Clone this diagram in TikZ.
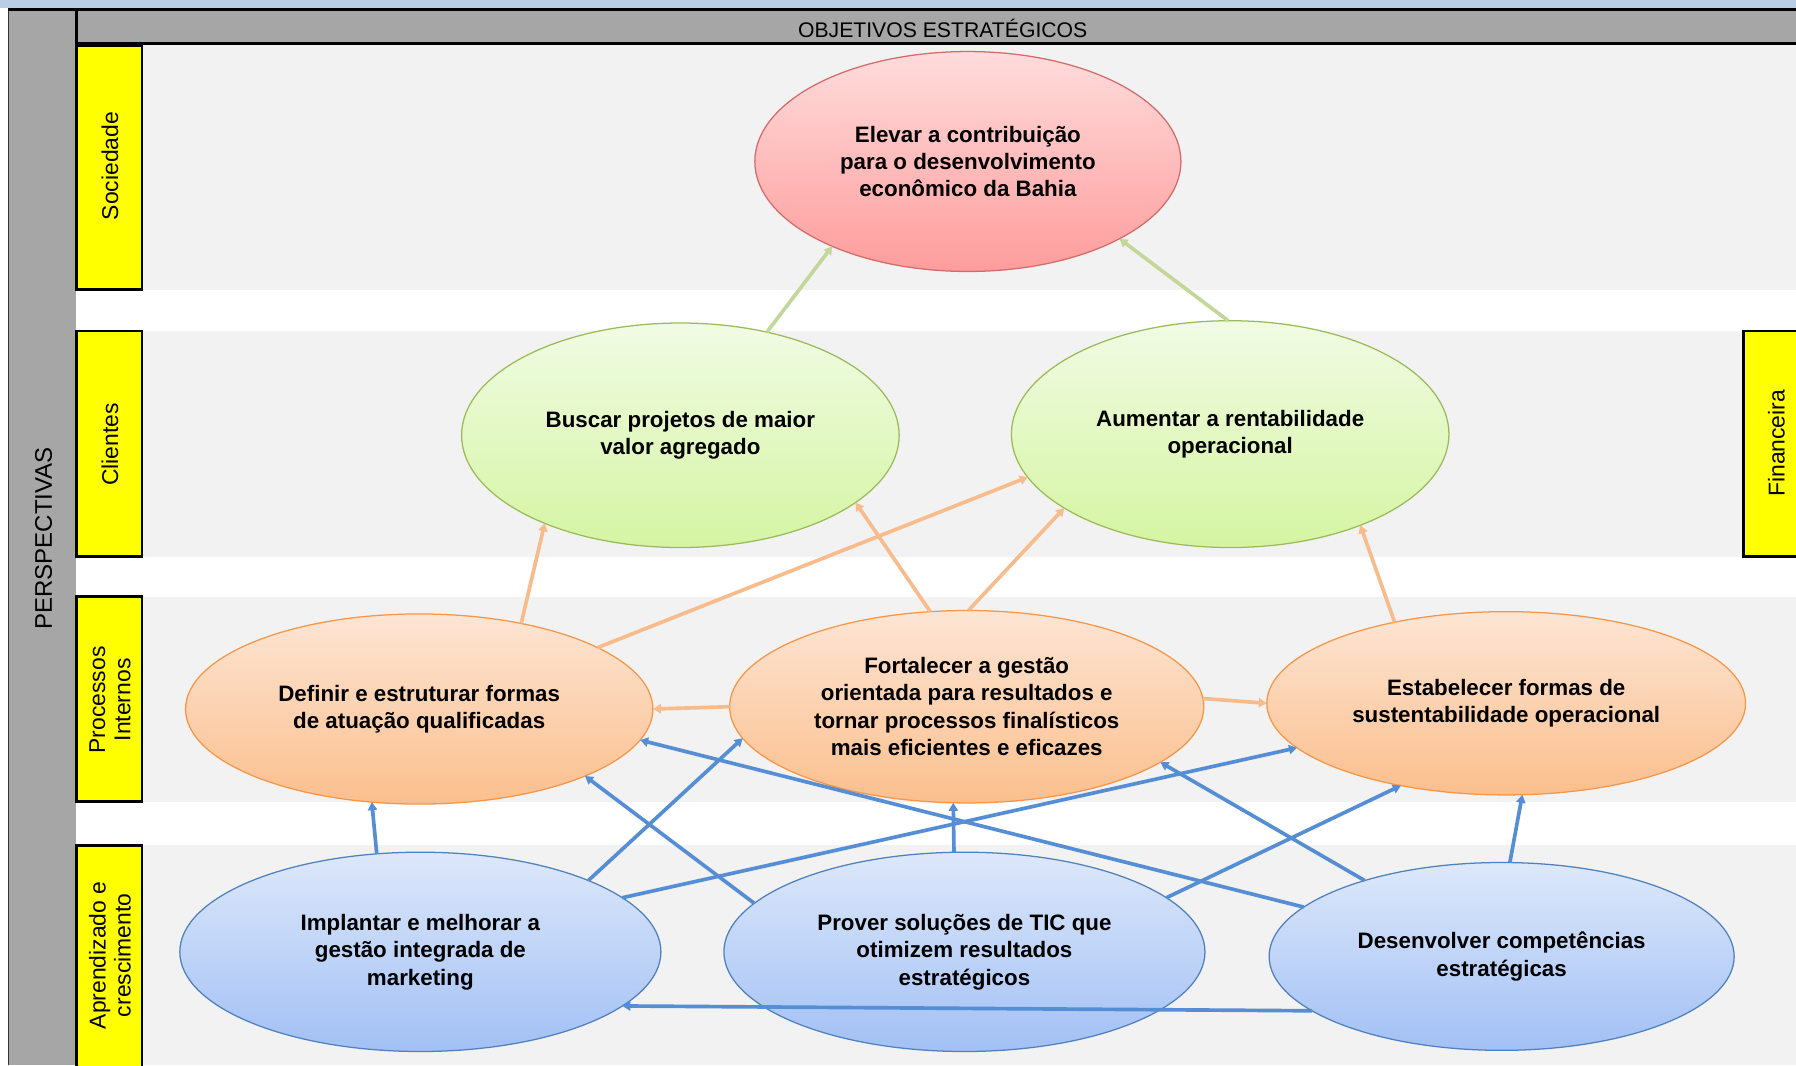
\documentclass[tikz,border=0pt]{standalone}
\usepackage{fontspec}
\setmainfont{Liberation Sans}
\usetikzlibrary{shapes.geometric,arrows.meta}
\definecolor{bandgray}{HTML}{F2F2F2}
\definecolor{colgray}{HTML}{A6A6A6}
\definecolor{topblue}{HTML}{B9CDE5}
\definecolor{labelyellow}{HTML}{FFFF00}
\definecolor{redtop}{HTML}{FFDCDC}
\definecolor{redbot}{HTML}{FF9C9C}
\definecolor{redline}{HTML}{D46A6A}
\definecolor{greentop}{HTML}{F1FBE4}
\definecolor{greenbot}{HTML}{D5F5A2}
\definecolor{greenline}{HTML}{9BBB59}
\definecolor{orangetop}{HTML}{FDE5D4}
\definecolor{orangebot}{HTML}{FBBF8D}
\definecolor{orangeline}{HTML}{F79646}
\definecolor{bluetop}{HTML}{DDE8FA}
\definecolor{bluebot}{HTML}{A2C0F5}
\definecolor{blueline}{HTML}{4F81BD}
\definecolor{arrowblue}{HTML}{558ED5}
\definecolor{arroworange}{HTML}{F8BC8C}
\definecolor{arrowgreen}{HTML}{C4D79B}
\tikzset{
  obj/.style={ellipse, draw, line width=1.1pt, inner sep=0pt, outer sep=0pt,
    align=center, font=\fontsize{19.5}{24}\selectfont\bfseries},
  redobj/.style={obj, draw=redline, top color=redtop, bottom color=redbot},
  greenobj/.style={obj, draw=greenline, top color=greentop, bottom color=greenbot},
  orangeobj/.style={obj, draw=orangeline, top color=orangetop, bottom color=orangebot},
  blueobj/.style={obj, draw=blueline, top color=bluetop, bottom color=bluebot},
  sidebox/.style={draw=black, line width=2.5pt, fill=labelyellow},
  sidelabel/.style={rotate=90, align=center, font=\fontsize{20}{22}\selectfont},
  gedge/.style={draw=arrowgreen, line width=3.2pt, -{Triangle[length=7pt,width=8pt]}},
  oedge/.style={draw=arroworange, line width=3.2pt, -{Triangle[length=7pt,width=8pt]}},
  bedge/.style={draw=arrowblue, line width=3.2pt, -{Triangle[length=7pt,width=8pt]}},
}
\begin{document}
\begin{tikzpicture}[x=1pt,y=-1pt]
\useasboundingbox (0,0) rectangle (1568,930);
\clip (0,0) rectangle (1568,930);
\fill[white] (0,0) rectangle (1568,930);
% top strip
\fill[topblue] (0,0) rectangle (1568,7);
% left column
\fill[colgray] (7,8) rectangle (66,930);
\draw[black!80, line width=1.2pt] (7.5,8) -- (7.5,930);
% bands
\fill[bandgray] (125,39) rectangle (1568,253);
\fill[bandgray] (125,289) rectangle (1568,486);
\fill[bandgray] (125,521) rectangle (1568,700);
\fill[bandgray] (125,738) rectangle (1568,930);
% header
\fill[colgray] (66,9) rectangle (1568,38);
\draw[black, line width=2.5pt] (7,8.5) -- (1568,8.5);
\draw[black, line width=2.5pt] (66,38) -- (1568,38);
\draw[black, line width=2.5pt] (66.5,8) -- (66.5,39);
\node[font=\fontsize{18.5}{20}\selectfont] (hdr) at (823,25) {OBJETIVOS ESTRATÉGICOS};
\node[rotate=90, font=\fontsize{21}{23}\selectfont] (persp) at (38,470) {PERSPECTIVAS};
% side boxes
\draw[sidebox] (67,40) rectangle (124,253);
\draw[sidebox] (67,289) rectangle (124,486);
\draw[sidebox] (67,521) rectangle (124,700);
\draw[sidebox] (67,738) rectangle (124,940);
\draw[sidebox] (1522,289) rectangle (1580,486);
\node[sidelabel] (lsoc) at (96,145) {Sociedade};
\node[sidelabel] (lcli) at (96,388) {Clientes};
\node[sidelabel] (lpro) at (96,611) {Processos\\Internos};
\node[sidelabel] (lapr) at (96,834) {Aprendizado e\\crescimento};
\node[sidelabel] (lfin) at (1551,387) {Financeira};
% objectives
\node[redobj, minimum width=372pt, minimum height=192pt] (elevar) at (845,141)
  {Elevar a contribuição\\para o desenvolvimento\\econômico da Bahia};
\node[greenobj, minimum width=382pt, minimum height=196pt] (buscar) at (594,380)
  {Buscar projetos de maior\\valor agregado};
\node[greenobj, minimum width=382pt, minimum height=198pt] (aumentar) at (1074,379)
  {Aumentar a rentabilidade\\operacional};
\node[orangeobj, minimum width=408pt, minimum height=166pt] (definir) at (366,619)
  {Definir e estruturar formas\\de atuação qualificadas};
\node[orangeobj, minimum width=414pt, minimum height=168pt] (fortalecer) at (844,617)
  {Fortalecer a gestão\\orientada para resultados e\\tornar processos finalísticos\\mais eficientes e eficazes};
\node[orangeobj, minimum width=418pt, minimum height=160pt] (estabelecer) at (1315,614)
  {Estabelecer formas de\\sustentabilidade operacional};
\node[blueobj, minimum width=420pt, minimum height=174pt] (implantar) at (367,831)
  {Implantar e melhorar a\\gestão integrada de\\marketing};
\node[blueobj, minimum width=420pt, minimum height=174pt] (prover) at (842,831)
  {Prover soluções de TIC que\\otimizem resultados\\estratégicos};
\node[blueobj, minimum width=406pt, minimum height=164pt] (desenvolver) at (1311,835)
  {Desenvolver competências\\estratégicas};
% green edges
\draw[gedge] (buscar.50) -- (elevar.212);
\draw[gedge] (aumentar.91) -- (elevar.333);
% orange edges
\draw[oedge] (definir.40) -- (buscar.213);
\draw[oedge] (definir.19) -- (aumentar.192);
\draw[oedge] (fortalecer.111) -- (buscar.339);
\draw[oedge] (fortalecer.89) -- (aumentar.204);
\draw[oedge] (estabelecer.144) -- (aumentar.325);
\draw[oedge] (fortalecer.180) -- (definir.0);
\draw[oedge] (fortalecer.2) -- (estabelecer.180);
% blue edges
\draw[bedge] (implantar.114) -- (definir.243);
\draw[bedge] (implantar.23) -- (fortalecer.188);
\draw[bedge] (implantar.15) -- (estabelecer.192);
\draw[bedge] (prover.167) -- (definir.338);
\draw[bedge] (prover.96) -- (fortalecer.262);
\draw[bedge] (prover.15) -- (estabelecer.218);
\draw[bedge] (desenvolver.166) -- (definir.352);
\draw[bedge] (desenvolver.151) -- (fortalecer.344);
\draw[bedge] (desenvolver.85) -- (estabelecer.280);
\draw[bedge] (desenvolver.196) -- (implantar.345);
\end{tikzpicture}
\end{document}
